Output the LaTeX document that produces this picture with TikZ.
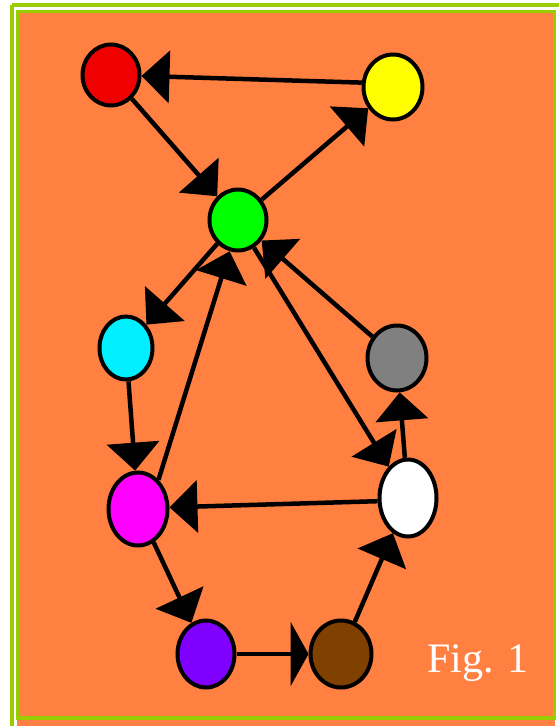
\documentclass[tikz,border=0pt]{standalone}
\usepackage{fontspec}
\setmainfont{Liberation Serif}
\usetikzlibrary{shapes.geometric,arrows.meta}
\definecolor{bgorange}{RGB}{255,128,64}
\definecolor{frame}{RGB}{154,205,0}
\definecolor{nred}{RGB}{240,0,0}
\definecolor{nyellow}{RGB}{255,255,0}
\definecolor{ngreen}{RGB}{0,255,0}
\definecolor{ncyan}{RGB}{0,240,255}
\definecolor{nmag}{RGB}{255,0,255}
\definecolor{ngray}{RGB}{128,128,128}
\definecolor{nwhite}{RGB}{255,255,255}
\definecolor{npurple}{RGB}{128,0,255}
\definecolor{nbrown}{RGB}{128,64,0}
\tikzset{
  vert/.style={ellipse, draw=black, line width=4pt, inner sep=0pt},
  link/.style={line width=4.5pt, -{Triangle[length=28pt,width=52pt]}},
  flatlink/.style={line width=4.5pt, -{Triangle[length=18pt,width=64pt]}},
}
\begin{document}
\begin{tikzpicture}[x=1pt,y=-1pt]
\useasboundingbox (0,0) rectangle (558,726);
\fill[white] (0,0) rectangle (558,726);
% outer frame line
\draw[frame, line width=3.5pt] (12,5) -- (570,5);
\draw[frame, line width=3.5pt] (12,5) -- (12,740);
% inner frame
\fill[bgorange] (17,11) rectangle (555,726);
\draw[frame, line width=3.5pt] (17.5,11.5) rectangle (554.5,718);

\node[vert, fill=nred,    minimum width=57pt, minimum height=61pt] (red)    at (111,75) {};
\node[vert, fill=nyellow, minimum width=59pt, minimum height=65pt] (yellow) at (393,87) {};
\node[vert, fill=ngreen,  minimum width=57pt, minimum height=61pt] (green)  at (238,220) {};
\node[vert, fill=ncyan,   minimum width=53pt, minimum height=63pt] (cyan)   at (126,348) {};
\node[vert, fill=nmag,    minimum width=59pt, minimum height=73pt] (mag)    at (138,509) {};
\node[vert, fill=ngray,   minimum width=59pt, minimum height=65pt] (gray)   at (397,358) {};
\node[vert, fill=nwhite,  minimum width=57pt, minimum height=77pt] (white)  at (408,498) {};
\node[vert, fill=npurple, minimum width=57pt, minimum height=67pt] (purple) at (206,654) {};
\node[vert, fill=nbrown,  minimum width=61pt, minimum height=67pt] (brown)  at (341,654) {};

\draw[link] (yellow.172) -- (red);
\draw[link] (red) -- (green);
\draw[link] (green) -- (yellow);
\draw[link] (green) -- (cyan);
\draw[link] (cyan) -- (mag);
\draw[link] (mag.55) -- (green.-105);
\draw[link] (green.-60) -- (white);
\draw[link] (gray) -- (green);
\draw[link] (white) -- (gray);
\draw[link] (white.186) -- (mag.3);
\draw[link] (mag) -- (purple);
\draw[flatlink] (purple) -- (brown);
\draw[link] (brown) -- (white);

\node[white, font=\fontsize{42}{48}\selectfont, anchor=base west, inner sep=0pt] (fig) at (427,672) {Fig. 1};
\end{tikzpicture}
\end{document}
